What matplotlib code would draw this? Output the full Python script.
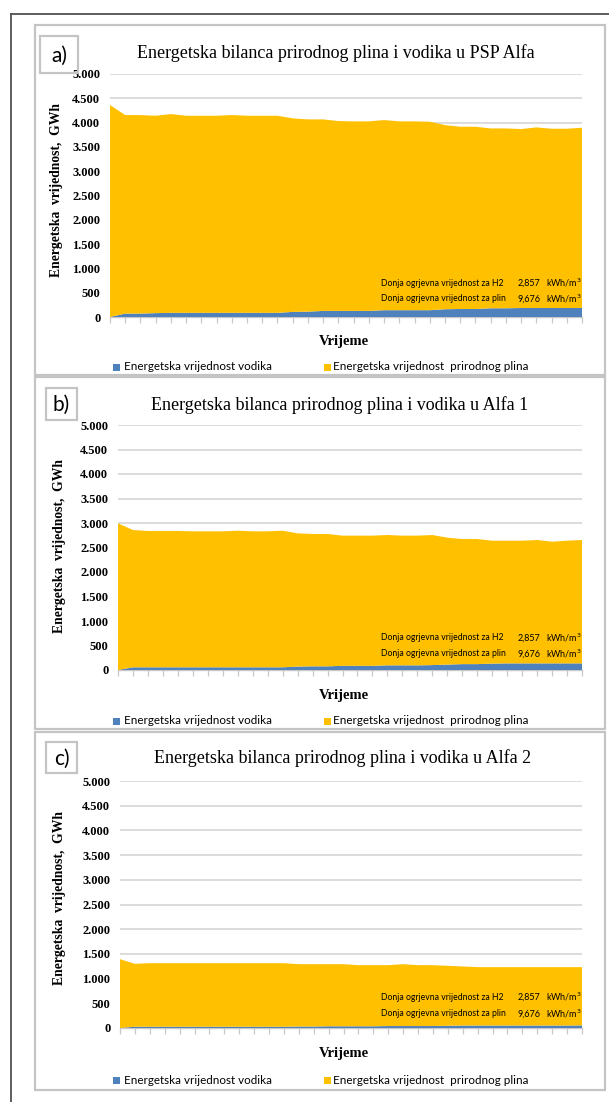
import matplotlib
matplotlib.use("Agg")
import matplotlib.pyplot as plt
from matplotlib.patches import Rectangle
from matplotlib.lines import Line2D
from matplotlib.ticker import FuncFormatter

W, H = 609, 1102

# ---- data (GWh), 32 time steps per storage site ----
steps = list(range(32))

h2_psp = [0, 70, 70, 80, 85, 85, 85, 85, 85, 85, 85, 85, 105, 110, 125, 125,
          125, 125, 140, 140, 140, 140, 160, 165, 165, 180, 180, 185, 185, 185, 185, 185]
gas_psp = [4361, 4085, 4085, 4061, 4091, 4056, 4056, 4056, 4070, 4056, 4056, 4056,
           3982, 3956, 3941, 3907, 3900, 3900, 3912, 3885, 3885, 3878, 3789, 3750,
           3750, 3700, 3700, 3682, 3716, 3689, 3689, 3709]

h2_alfa1 = [0, 55, 55, 55, 55, 55, 55, 55, 55, 55, 55, 55, 70, 75, 75, 85,
            85, 85, 95, 95, 95, 100, 110, 120, 120, 130, 135, 135, 135, 135, 135, 135]
gas_alfa1 = [2993, 2802, 2782, 2782, 2782, 2775, 2775, 2775, 2788, 2775, 2775, 2788,
             2719, 2701, 2701, 2657, 2657, 2657, 2660, 2647, 2647, 2655, 2591, 2553,
             2553, 2509, 2504, 2504, 2518, 2484, 2504, 2518]

h2_alfa2 = [0, 25, 25, 25, 25, 25, 25, 25, 25, 25, 25, 25, 30, 30, 35, 35,
            35, 35, 40, 40, 40, 40, 45, 50, 50, 50, 50, 50, 50, 50, 50, 52]
gas_alfa2 = [1393, 1274, 1287, 1287, 1287, 1287, 1287, 1287, 1287, 1287, 1287, 1287,
             1262, 1262, 1257, 1257, 1237, 1237, 1232, 1252, 1232, 1232, 1214, 1195,
             1182, 1182, 1182, 1182, 1182, 1182, 1182, 1180]

titles = ["Energetska bilanca prirodnog plina i vodika u PSP Alfa",
          "Energetska bilanca prirodnog plina i vodika u Alfa 1",
          "Energetska bilanca prirodnog plina i vodika u Alfa 2"]
panel_tags = ["a)", "b)", "c)"]
series_names = ["Energetska vrijednost vodika", "Energetska vrijednost  prirodnog plina"]
y_ticks = [0, 500, 1000, 1500, 2000, 2500, 3000, 3500, 4000, 4500, 5000]
y_label = "Energetska  vrijednost,  GWh"
x_label = "Vrijeme"
lhv_lines = [("Donja ogrjevna vrijednost za H2", "2,857"),
             ("Donja ogrjevna vrijednost za plin", "9,676")]

BLUE = "#4F81BD"
GOLD = "#FFC000"
GRID = "#D9D9D9"
SERIF = "Liberation Serif"
SANS = ["Lato", "DejaVu Sans"]
NARROW = ["Liberation Sans Narrow", "Lato", "DejaVu Sans"]

fig = plt.figure(figsize=(W / 100, H / 100), dpi=100)


def fx(x):
    return x / W


def fy(y):
    return 1 - y / H


def add_rect(x0, y0, x1, y1, color, lw):
    fig.patches.append(Rectangle((fx(x0), fy(y1)), fx(x1) - fx(x0), fy(y0) - fy(y1),
                                 transform=fig.transFigure, fill=False,
                                 edgecolor=color, linewidth=lw))


# outer frame (left and top edges)
fig.lines.append(Line2D([fx(11), fx(11)], [fy(14), fy(H + 5)], transform=fig.transFigure,
                        color="#505050", lw=1.3))
fig.lines.append(Line2D([fx(11), fx(W + 5)], [fy(14), fy(14)], transform=fig.transFigure,
                        color="#505050", lw=1.3))

panels = [
    dict(h2=h2_psp, gas=gas_psp, box=(35, 25, 605, 375), tag=(40, 36, 78, 73),
         ax=(110, 74, 582, 317), title_y=53, title_x=336, ylab=(57, 190),
         note_y=(283, 299), xlab_y=342, leg_y=367),
    dict(h2=h2_alfa1, gas=gas_alfa1, box=(35, 377, 605, 729), tag=(46, 388, 77, 420),
         ax=(118, 425, 582, 670), title_y=405, title_x=340, ylab=(59, 546),
         note_y=(638, 654), xlab_y=695, leg_y=721),
    dict(h2=h2_alfa2, gas=gas_alfa2, box=(35, 732, 605, 1090), tag=(46, 742, 77, 773),
         ax=(120, 781, 582, 1028), title_y=758, title_x=343, ylab=(59, 898),
         note_y=(997, 1014), xlab_y=1054, leg_y=1080),
]

thousands = FuncFormatter(lambda v, p: f"{int(v):,}".replace(",", "."))

for i, p in enumerate(panels):
    add_rect(*p["box"], color="#C4C4C4", lw=1.6)
    add_rect(*p["tag"], color="#C4C4C4", lw=1.6)

    x0, y0, x1, y1 = p["ax"]
    ax = fig.add_axes([fx(x0), fy(y1), fx(x1) - fx(x0), fy(y0) - fy(y1)])
    ax.stackplot(steps, p["h2"], p["gas"], colors=[BLUE, GOLD], linewidth=0)
    ax.set_xlim(steps[0], steps[-1])
    ax.set_ylim(0, 5000)
    ax.set_yticks(y_ticks)
    ax.yaxis.set_major_formatter(thousands)
    ax.set_xticks(steps)
    ax.set_xticklabels([])
    ax.grid(axis="y", color=GRID, lw=1.3)
    ax.set_axisbelow(True)
    for s in ["top", "right", "left"]:
        ax.spines[s].set_visible(False)
    ax.spines["bottom"].set_color("#C8C8C8")
    ax.spines["bottom"].set_linewidth(1.0)
    ax.spines["bottom"].set_zorder(0.5)
    ax.tick_params(axis="y", length=0, pad=7, labelsize=9)
    ax.tick_params(axis="x", length=4, color="#C8C8C8", width=0.9, direction="out")
    for lab in ax.get_yticklabels():
        lab.set_fontfamily(SERIF)
        lab.set_fontweight("bold")
    ax.set_facecolor("none")

    # panel tag
    tx0, ty0, tx1, ty1 = p["tag"]
    fig.text(fx((tx0 + tx1) / 2), fy((ty0 + ty1) / 2 + 1), panel_tags[i], family=SANS,
             fontsize=15, ha="center", va="center")

    # title
    fig.text(fx(p["title_x"]), fy(p["title_y"]), titles[i], family=SERIF, fontsize=13,
             ha="center", va="center")

    # axis titles
    fig.text(fx(p["ylab"][0]), fy(p["ylab"][1]), y_label, family=SERIF, fontweight="bold",
             fontsize=9.8, rotation=90, ha="center", va="center")
    fig.text(fx(344), fy(p["xlab_y"]), x_label, family=SERIF, fontweight="bold",
             fontsize=10.5, ha="center", va="center")

    # heating value notes
    for (txt, val), yy in zip(lhv_lines, p["note_y"]):
        fig.text(fx(381), fy(yy), txt, family=NARROW, fontsize=6.2, ha="left", va="center")
        fig.text(fx(540), fy(yy), val, family=NARROW, fontsize=6.5, ha="right", va="center")
        fig.text(fx(546), fy(yy), r"kWh/m$^3$", family=NARROW, fontsize=6.5,
                 ha="left", va="center")

    # legend
    ly = p["leg_y"]
    sq = 7
    for (sx, tx), col, name in zip([(113, 124), (324, 333)], [BLUE, GOLD], series_names):
        fig.patches.append(Rectangle((fx(sx), fy(ly + sq / 2)), sq / W, sq / H,
                                     transform=fig.transFigure, facecolor=col,
                                     edgecolor="none"))
        fig.text(fx(tx), fy(ly), name, family=SANS, fontsize=8.4, ha="left", va="center")

fig.savefig("out.png", dpi=100, facecolor="white")
